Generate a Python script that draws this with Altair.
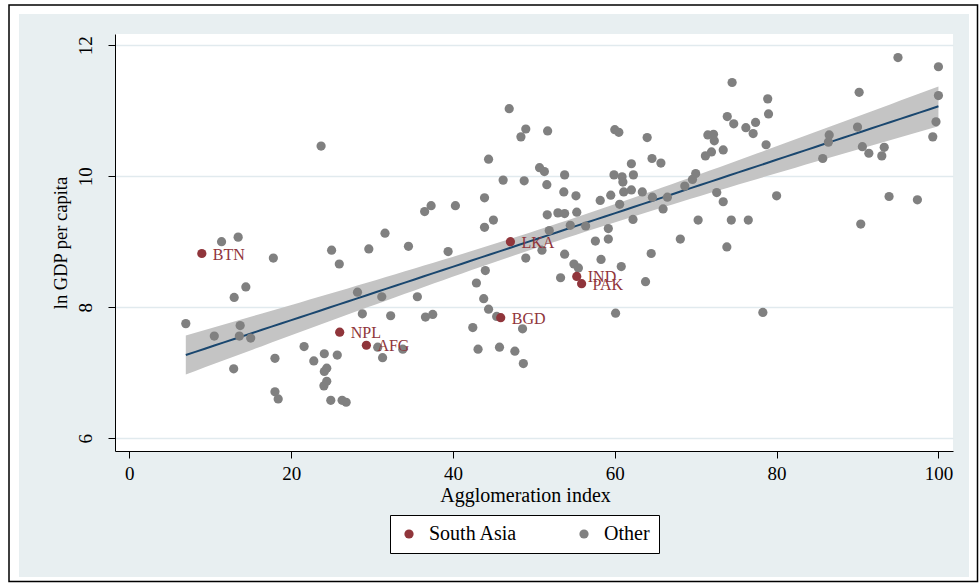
import altair as alt
import pandas as pd
import numpy as np

# ---- data ----
other_x = [23.7, 11.4, 13.45, 31.6, 25.0, 29.6, 17.8, 25.95, 14.4, 12.96,
           28.2, 31.2, 6.98, 13.7, 28.8, 32.3, 10.5, 13.6, 15.0, 30.7,
           31.3, 21.6, 18.0, 22.8, 24.1, 25.7, 12.9, 24.4, 24.1, 24.4,
           24.05, 18.0, 18.4, 24.9, 26.3, 26.8, 33.8,
           34.5, 39.4, 46.95, 49.0, 48.4, 51.7, 60.0, 60.5, 64.0, 44.4,
           50.7, 51.3, 64.6, 65.7, 62.05, 46.2, 48.8, 51.6, 53.8, 59.9,
           60.9, 62.3, 61.0, 61.1, 62.05, 63.4, 64.65, 66.5, 65.97, 62.25,
           59.5, 58.2, 55.2, 53.7, 60.6, 43.9, 40.3, 37.3, 36.5, 45.0,
           43.9, 51.65, 52.97, 53.8, 55.3, 54.5, 56.4, 59.2, 51.9, 57.6,
           59.2, 49.0, 51.0, 53.8, 58.3, 60.8, 54.95, 55.5, 44.0, 42.9,
           43.8, 44.4, 53.3, 63.8, 68.1, 60.1, 35.6, 36.6, 37.5, 45.4,
           48.6, 42.45, 43.1, 45.75, 47.65, 48.7, 64.5,
           95.0, 100.0, 74.5, 90.2, 78.9, 79.0, 73.9, 74.7, 76.2, 77.4,
           77.1, 71.5, 72.2, 72.3, 73.4, 71.2, 71.95, 78.7, 86.5, 86.4,
           85.7, 90.0, 90.6, 91.4, 93.3, 93.0, 100.0, 99.7, 99.3, 70.0,
           69.6, 68.65, 72.6, 73.4, 80.0, 70.3, 74.4, 76.5, 90.4, 93.9,
           97.4, 73.85, 78.3]
other_y = [10.46, 9.00, 9.07, 9.13, 8.87, 8.89, 8.75, 8.66, 8.31, 8.15,
           8.23, 8.16, 7.75, 7.72, 7.90, 7.87, 7.56, 7.56, 7.53, 7.39,
           7.23, 7.40, 7.22, 7.18, 7.29, 7.27, 7.06, 7.07, 7.02, 6.87,
           6.80, 6.71, 6.60, 6.58, 6.58, 6.55, 7.36,
           8.93, 8.85, 11.03, 10.72, 10.60, 10.69, 10.71, 10.67, 10.59, 10.26,
           10.13, 10.07, 10.27, 10.20, 10.19, 9.94, 9.93, 9.87, 10.02, 10.02,
           9.99, 10.02, 9.91, 9.76, 9.79, 9.76, 9.68, 9.68, 9.50, 9.34,
           9.71, 9.63, 9.70, 9.76, 9.57, 9.67, 9.55, 9.55, 9.46, 9.33,
           9.22, 9.41, 9.44, 9.43, 9.45, 9.25, 9.24, 9.20, 9.17, 9.01,
           9.04, 8.75, 8.87, 8.81, 8.73, 8.62, 8.66, 8.60, 8.56, 8.37,
           8.13, 7.97, 8.45, 8.39, 9.04, 7.91, 8.16, 7.85, 7.89, 7.86,
           7.67, 7.69, 7.36, 7.39, 7.33, 7.14, 8.82,
           11.81, 11.67, 11.43, 11.28, 11.18, 10.95, 10.91, 10.80, 10.74, 10.82,
           10.65, 10.63, 10.64, 10.54, 10.40, 10.31, 10.37, 10.48, 10.63, 10.52,
           10.27, 10.75, 10.45, 10.35, 10.44, 10.31, 11.23, 10.83, 10.60, 10.04,
           9.95, 9.85, 9.75, 9.61, 9.70, 9.33, 9.33, 9.33, 9.27, 9.69,
           9.64, 8.92, 7.92]
sa_code = ["BTN", "NPL", "AFG", "LKA", "BGD", "IND", "PAK"]
sa_x = [8.96, 26.0, 29.3, 47.1, 45.9, 55.3, 55.9]
sa_y = [8.82, 7.62, 7.42, 9.00, 7.84, 8.47, 8.36]

x_ticks = [0, 20, 40, 60, 80, 100]
y_ticks = [6, 8, 10, 12]
groups = ["South Asia", "Other"]

# ---- styling ----
MAROON = "#90353b"
GRAY = "#808080"
NAVY = "#1a476f"
BAND = "#c4c4c4"
BG = "#e8eff1"
GRID = "#e1eaee"
FONT = "Liberation Serif"
NBSP = "\u00a0"

df = pd.DataFrame({
    "x": other_x + sa_x,
    "y": other_y + sa_y,
    "group": ["Other"] * len(other_x) + ["South Asia"] * len(sa_x),
    "code": [""] * len(other_x) + sa_code,
})
sa_df = df[df["group"] == "South Asia"]

# linear fit with 95% CI of the mean prediction, computed from the points
X = df["x"].to_numpy()
Y = df["y"].to_numpy()
n = len(X)
b, a = np.polyfit(X, Y, 1)
resid = Y - (a + b * X)
s = np.sqrt(resid @ resid / (n - 2))
xbar = X.mean()
sxx = ((X - xbar) ** 2).sum()
gx = np.linspace(X.min(), X.max(), 80)
fit = a + b * gx
se = s * np.sqrt(1.0 / n + (gx - xbar) ** 2 / sxx)
band_df = pd.DataFrame({"x": gx, "fit": fit, "lo": fit - 1.975 * se, "hi": fit + 1.975 * se})

xs = alt.Scale(domain=[-1.77, 101.8], nice=False, zero=False)
ys = alt.Scale(domain=[5.806, 12.17], nice=False, zero=False)

x_axis = alt.Axis(values=x_ticks, title="Agglomeration index", grid=False,
                  titleFont=FONT, titleFontSize=20, titleFontWeight="normal", titleColor="black",
                  titleX=410, titleY=50, titleBaseline="alphabetic", titleAlign="center",
                  labelFont=FONT, labelFontSize=19, labelColor="black", labelPadding=6,
                  labelBaseline="top", labelFlush=False, tickSize=7, tickColor="black",
                  tickWidth=1, domainColor="black", domainWidth=1)
y_axis = alt.Axis(values=y_ticks, title="ln GDP per capita", grid=True, gridColor=GRID, gridWidth=1.5,
                  titleFont=FONT, titleFontSize=18.5, titleFontWeight="normal", titleColor="black",
                  titleAngle=270, titleX=-45, titleY=208.5, titleAlign="center", titleBaseline="bottom",
                  labelFont=FONT, labelFontSize=19, labelColor="black", labelAngle=270,
                  labelAlign="center", labelBaseline="alphabetic", labelPadding=17, labelFlush=False,
                  tickSize=7, tickColor="black", tickWidth=1, domainColor="black", domainWidth=1)

one = pd.DataFrame({"k": [0]})
white_frame = alt.Chart(one).mark_rect(filled=False, stroke="white", strokeWidth=20).encode(
    x=alt.value(-106), x2=alt.value(864), y=alt.value(-30), y2=alt.value(553))
black_frame = alt.Chart(one).mark_rect(filled=False, stroke="black", strokeWidth=1.5).encode(
    x=alt.value(-106), x2=alt.value(862.5), y=alt.value(-29), y2=alt.value(547.5))

band = alt.Chart(band_df).mark_area(color=BAND, opacity=1).encode(
    x=alt.X("x:Q", scale=xs, axis=x_axis),
    y=alt.Y("lo:Q", scale=ys, axis=y_axis),
    y2="hi:Q")
line = alt.Chart(band_df).mark_line(color=NAVY, strokeWidth=2).encode(
    x=alt.X("x:Q", scale=xs, axis=x_axis),
    y=alt.Y("fit:Q", scale=ys, axis=y_axis))

points = alt.Chart(df).mark_circle(size=85, opacity=1).encode(
    x=alt.X("x:Q", scale=xs, axis=x_axis),
    y=alt.Y("y:Q", scale=ys, axis=y_axis),
    color=alt.Color("group:N", scale=alt.Scale(domain=groups, range=[MAROON, GRAY]),
                    legend=alt.Legend(title=None, orient="none", legendX=275, legendY=481,
                                      direction="horizontal", fillColor="white", strokeColor="black",
                                      padding=9, labelFont=FONT, labelFontSize=20, labelColor="black",
                                      symbolType="circle", symbolSize=85, symbolStrokeWidth=0,
                                      labelOffset=10, columnPadding=56,
                                      labelExpr="datum.label == 'Other' ? 'Other" + NBSP * 4 + "' : datum.label")))

labels = alt.Chart(sa_df).mark_text(align="left", baseline="middle", dx=11, dy=1,
                                     font=FONT, fontSize=16, color=MAROON).encode(
    x=alt.X("x:Q", scale=xs, axis=x_axis),
    y=alt.Y("y:Q", scale=ys, axis=y_axis),
    text="code:N")

chart = alt.layer(white_frame, black_frame, band, line, points, labels).properties(
    width=838, height=417,
    autosize=alt.AutoSizeParams(type="none"),
    padding={"left": 115, "top": 34, "right": 26, "bottom": 134},
    background=BG,
).configure_view(fill="white", strokeWidth=0)

chart.save("out.html", embed_options={"renderer": "svg", "actions": False})
